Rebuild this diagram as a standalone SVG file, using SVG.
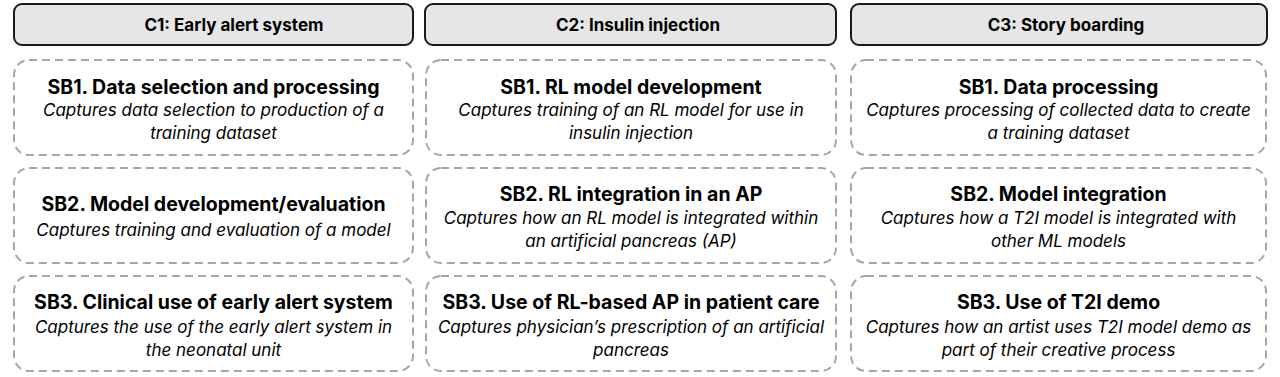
<svg xmlns="http://www.w3.org/2000/svg" width="1280" height="377" viewBox="0 0 1280 377">
<style>
.hdr{fill:#e6e6e6;stroke:#1a1a1a;stroke-width:2}
.box{fill:#ffffff;stroke:#a6a6a6;stroke-width:2;stroke-dasharray:8 5}
.ht{font-family:Inter,"Liberation Sans",sans-serif;font-weight:bold;font-size:17px;fill:#000;text-anchor:middle}
.t{font-family:Inter,"Liberation Sans",sans-serif;font-weight:bold;font-size:19.5px;fill:#000;text-anchor:middle}
.s{font-family:Inter,"Liberation Sans",sans-serif;font-style:italic;font-size:17px;fill:#000;text-anchor:middle}
</style>
<rect width="1280" height="377" fill="#ffffff"/>
<g id="c1-header"><rect class="hdr" x="14" y="4" width="399" height="41" rx="8"/><text class="ht" x="234" y="31">C1: Early alert system</text></g>
<g id="c2-header"><rect class="hdr" x="425" y="4" width="411" height="41" rx="8"/><text class="ht" x="638" y="31">C2: Insulin injection</text></g>
<g id="c3-header"><rect class="hdr" x="851" y="4" width="416" height="41" rx="8"/><text class="ht" x="1066" y="31">C3: Story boarding</text></g>

<g id="c1-sb1"><rect class="box" x="14" y="60" width="399" height="95" rx="15"/><text class="t" x="213.5" y="94">SB1. Data selection and processing</text><text class="s" x="213.5" y="116">Captures data selection to production of a</text><text class="s" x="213.5" y="139">training dataset</text></g>
<g id="c1-sb2"><rect class="box" x="14" y="168" width="399" height="95" rx="15"/><text class="t" x="213.5" y="211">SB2. Model development/evaluation</text><text class="s" x="213.5" y="236">Captures training and evaluation of a model</text></g>
<g id="c1-sb3"><rect class="box" x="14" y="276" width="399" height="95" rx="15"/><text class="t" x="213.5" y="309">SB3. Clinical use of early alert system</text><text class="s" x="213.5" y="333">Captures the use of the early alert system in</text><text class="s" x="213.5" y="356">the neonatal unit</text></g>

<g id="c2-sb1"><rect class="box" x="426" y="60" width="410" height="95" rx="15"/><text class="t" x="631" y="94">SB1. RL model development</text><text class="s" x="631" y="116">Captures training of an RL model for use in</text><text class="s" x="631" y="139">insulin injection</text></g>
<g id="c2-sb2"><rect class="box" x="426" y="168" width="410" height="95" rx="15"/><text class="t" x="631" y="201">SB2. RL integration in an AP</text><text class="s" x="631" y="224">Captures how an RL model is integrated within</text><text class="s" x="631" y="247">an artificial pancreas (AP)</text></g>
<g id="c2-sb3"><rect class="box" x="426" y="276" width="410" height="95" rx="15"/><text class="t" x="631" y="309">SB3. Use of RL-based AP in patient care</text><text class="s" x="631" y="333">Captures physician’s prescription of an artificial</text><text class="s" x="631" y="356">pancreas</text></g>

<g id="c3-sb1"><rect class="box" x="851" y="60" width="415" height="95" rx="15"/><text class="t" x="1058.5" y="94">SB1. Data processing</text><text class="s" x="1058.5" y="116">Captures processing of collected data to create</text><text class="s" x="1058.5" y="139">a training dataset</text></g>
<g id="c3-sb2"><rect class="box" x="851" y="168" width="415" height="95" rx="15"/><text class="t" x="1058.5" y="201">SB2. Model integration</text><text class="s" x="1058.5" y="224">Captures how a T2I model is integrated with</text><text class="s" x="1058.5" y="247">other ML models</text></g>
<g id="c3-sb3"><rect class="box" x="851" y="276" width="415" height="95" rx="15"/><text class="t" x="1058.5" y="309">SB3. Use of T2I demo</text><text class="s" x="1058.5" y="333">Captures how an artist uses T2I model demo as</text><text class="s" x="1058.5" y="356">part of their creative process</text></g>
<g id="connectors"/>
</svg>
